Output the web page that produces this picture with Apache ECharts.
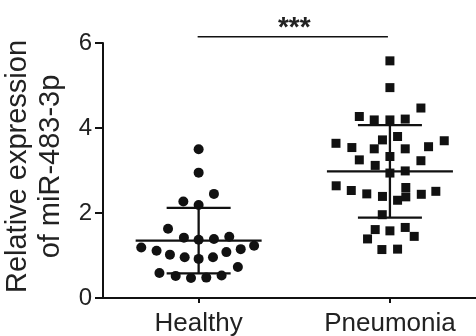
<!DOCTYPE html>
<html><head><meta charset="utf-8">
<script src="https://cdn.jsdelivr.net/npm/echarts@6/dist/echarts.min.js"></script>
<style>html,body{margin:0;padding:0;background:#fff}#c{width:476px;height:336px}</style>
</head><body><div id="c"></div>
<script>
const categories = ['Healthy', 'Pneumonia'];
const yTicks = [0, 2, 4, 6];
const yTitle = 'Relative expression\nof miR-483-3p';

const healthyValues = [3.50, 2.95, 2.45, 2.27, 2.19, 1.63, 1.42, 1.37, 1.39, 1.44,
  1.19, 1.11, 1.02, 0.96, 0.92, 0.96, 1.08, 1.15, 1.23, 0.73,
  0.59, 0.52, 0.47, 0.48, 0.53];
const healthyOffsets = [0, 0, 0.08, -0.08, 0, -0.16, -0.077, 0, 0.08, 0.16,
  -0.30, -0.22, -0.15, -0.073, 0, 0.075, 0.145, 0.22, 0.29, 0.205,
  -0.205, -0.12, -0.04, 0.04, 0.12];

const pneumoniaValues = [5.58, 4.95, 4.47, 4.27, 4.19, 4.19, 4.21, 3.64, 3.54, 3.51,
  3.72, 3.80, 3.51, 3.56, 3.70, 3.33, 3.25, 3.23, 3.12, 2.94,
  2.99, 2.64, 2.53, 2.45, 2.39, 2.30, 2.60, 2.38, 2.44, 2.51,
  1.96, 1.61, 1.58, 1.66, 1.45, 1.39, 1.14, 1.15];
const pneumoniaOffsets = [0, 0, 0.162, -0.16, -0.082, 0, 0.08, -0.282, -0.199, -0.082,
  -0.039, 0.04, 0.08, 0.202, 0.284, 0, -0.16, 0.162, -0.077, 0,
  0.08, -0.281, -0.202, -0.121, -0.039, 0.04, 0.083, 0.083, 0.164, 0.24,
  -0.04, -0.077, 0, 0.08, 0.127, -0.117, -0.042, 0.04];

const groupMeans = [1.35, 2.98];
const groupSDs = [0.77, 1.09];
const sigLabel = '***';
const sigLevel = 6.15;

const FONT = '"Liberation Sans", Arial, Helvetica, sans-serif';
const INK = '#111';

const chart = echarts.init(document.getElementById('c'), null, {renderer: 'canvas'});

function toPoints(vals, offs, center) {
  return vals.map((v, i) => [center + offs[i], v]);
}

const option = {
  animation: false,
  backgroundColor: '#fff',
  grid: {left: 103, right: 0, top: 43, bottom: 38, containLabel: false, outerBoundsMode: 'none'},
  xAxis: {
    type: 'value', min: 0.5, max: 2.45,
    splitLine: {show: false},
    axisLine: {show: true, onZero: false, lineStyle: {color: INK, width: 2}},
    axisTick: {show: true, customValues: [1, 2], length: 5, lineStyle: {color: INK, width: 2}},
    axisLabel: {
      customValues: [1, 2],
      formatter: v => categories[Math.round(v) - 1],
      fontSize: 26, color: '#222', fontFamily: FONT, margin: 13
    }
  },
  yAxis: {
    type: 'value', min: yTicks[0], max: yTicks[yTicks.length - 1], interval: 2,
    splitLine: {show: false},
    axisLine: {show: true, lineStyle: {color: INK, width: 2}},
    axisTick: {show: true, length: 8, lineStyle: {color: INK, width: 2}},
    axisLabel: {fontSize: 24, color: '#222', fontFamily: FONT, margin: 11},
    name: yTitle, nameLocation: 'middle', nameGap: 34,
    nameTextStyle: {fontSize: 29, color: '#222', fontFamily: FONT, lineHeight: 33, padding: [0, 0, 0, 8]}
  },
  series: [
    {
      type: 'scatter', symbol: 'circle', symbolSize: 10,
      itemStyle: {color: INK, opacity: 1},
      data: toPoints(healthyValues, healthyOffsets, 1), z: 3
    },
    {
      type: 'scatter', symbol: 'rect', symbolSize: 9,
      itemStyle: {color: INK, opacity: 1},
      data: toPoints(pneumoniaValues, pneumoniaOffsets, 2), z: 3
    },
    {
      type: 'custom', z: 5, clip: false,
      data: categories.map((c, i) => [i + 1, groupMeans[i], groupSDs[i]]),
      renderItem: function (params, api) {
        const cx = api.value(0), m = api.value(1), sd = api.value(2);
        const pm = api.coord([cx, m]);
        const pt = api.coord([cx, m + sd]);
        const pb = api.coord([cx, m - sd]);
        const st = {stroke: INK, lineWidth: 2.3};
        return {type: 'group', children: [
          {type: 'line', shape: {x1: pm[0] - 63, y1: pm[1], x2: pm[0] + 63, y2: pm[1]}, style: st},
          {type: 'line', shape: {x1: pt[0] - 32, y1: pt[1], x2: pt[0] + 32, y2: pt[1]}, style: st},
          {type: 'line', shape: {x1: pb[0] - 32, y1: pb[1], x2: pb[0] + 32, y2: pb[1]}, style: st},
          {type: 'line', shape: {x1: pt[0], y1: pt[1], x2: pb[0], y2: pb[1]}, style: st}
        ]};
      }
    },
    {
      type: 'custom', z: 5, clip: false,
      data: [[1, 2, sigLevel]],
      renderItem: function (params, api) {
        const a = api.coord([api.value(0), api.value(2)]);
        const b = api.coord([api.value(1), api.value(2)]);
        return {type: 'group', children: [
          {type: 'line', shape: {x1: a[0] - 1, y1: a[1], x2: b[0] - 2, y2: b[1]}, style: {stroke: INK, lineWidth: 1.5}},
          {type: 'text', x: (a[0] + b[0]) / 2, y: a[1] + 6,
           style: {text: sigLabel, fill: '#222', font: 'bold 28px ' + FONT, textAlign: 'center', textVerticalAlign: 'bottom'}}
        ]};
      }
    }
  ]
};
chart.setOption(option);
</script>
</body></html>
